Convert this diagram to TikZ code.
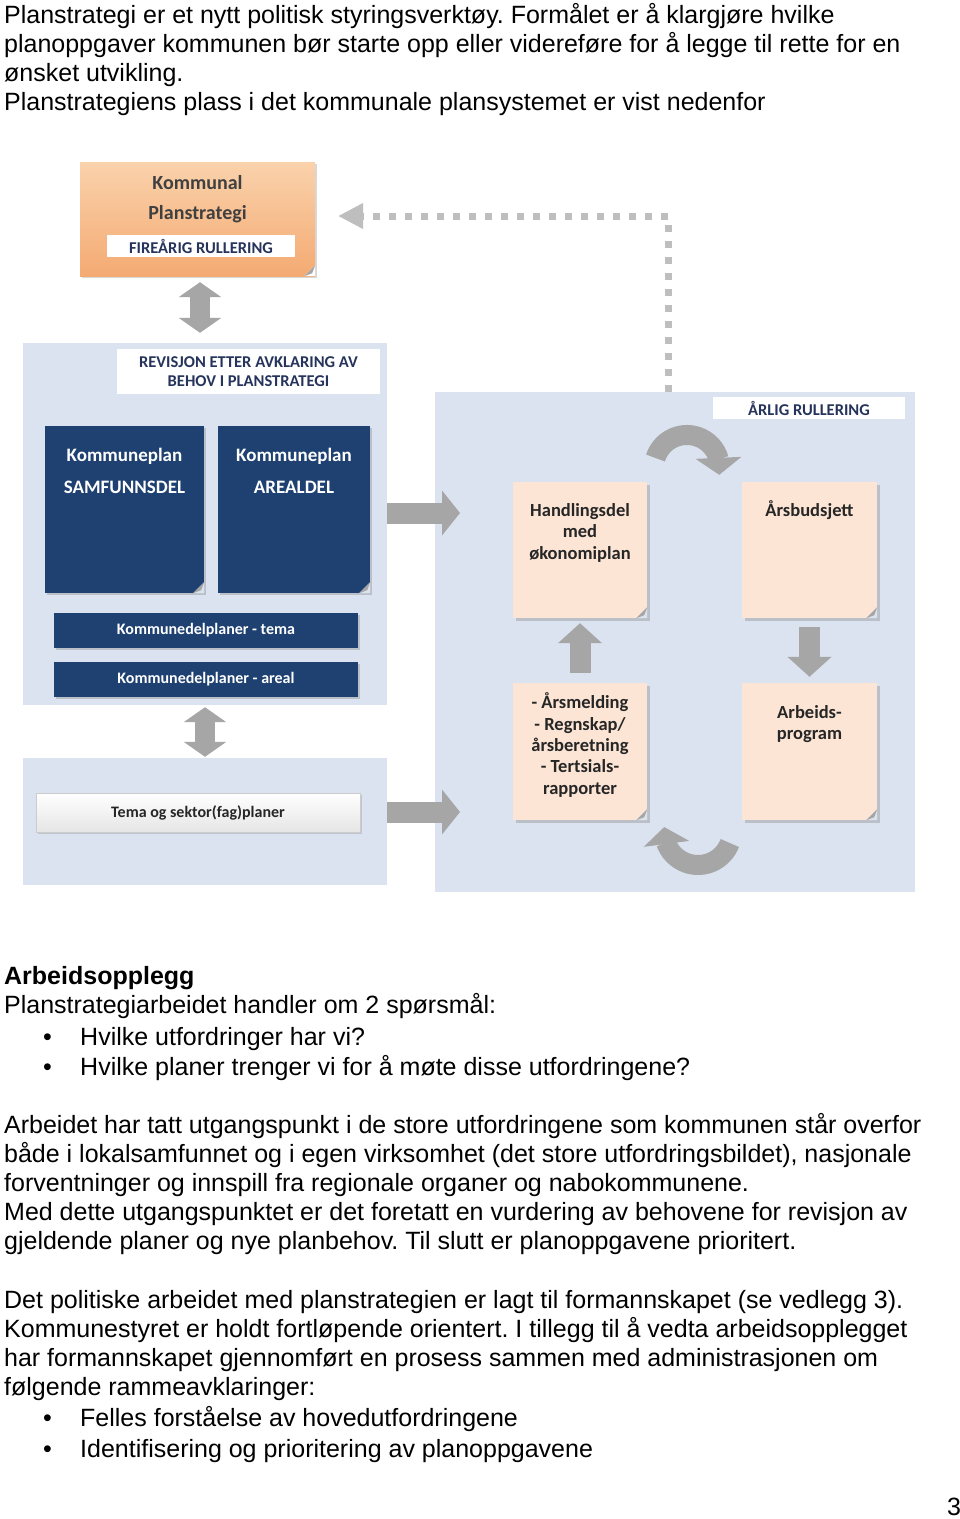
\documentclass[tikz,border=0pt]{standalone}
\usepackage{fontspec}
\setmainfont{Liberation Sans}
\newfontfamily\dfont{Carlito}
\usetikzlibrary{arrows.meta,bending,shadows}
\definecolor{panel}{RGB}{219,227,240}
\definecolor{navy}{RGB}{30,65,114}
\definecolor{navytext}{RGB}{38,52,92}
\definecolor{peach}{RGB}{252,229,213}
\definecolor{arrowgray}{RGB}{166,166,166}
\definecolor{dotgray}{RGB}{190,190,190}
\definecolor{orangetop}{RGB}{250,210,172}
\definecolor{orangebot}{RGB}{244,170,114}
\definecolor{boxtext}{RGB}{38,38,38}
\definecolor{plantext}{RGB}{64,64,64}
\newcommand\pagecurl[2]{%
  \fill[#2] ([xshift=-11pt]#1.south east) -- (#1.south east) -- ([yshift=11pt]#1.south east) -- cycle;
  \fill[black!35] ([xshift=-11pt]#1.south east) -- ([yshift=11pt]#1.south east) -- ([xshift=-3pt,yshift=3pt]#1.south east) -- cycle;}
\frenchspacing
\begin{document}
\begin{tikzpicture}[x=1pt,y=-1pt,
  body/.style={anchor=base west,inner sep=0pt,font=\fontsize{25}{29}\selectfont},
  bodybold/.style={anchor=base west,inner sep=0pt,font=\fontsize{25}{29}\selectfont\bfseries},
  panelbox/.style={fill=panel,draw=none,inner sep=0pt},
  darkbox/.style={fill=navy,draw=none,inner sep=0pt,drop shadow={shadow xshift=2pt,shadow yshift=-2pt,opacity=.35}},
  peachbox/.style={fill=peach,draw=none,inner sep=0pt,drop shadow={shadow xshift=3pt,shadow yshift=-3pt,opacity=.35}},
  whitelabel/.style={fill=white,inner sep=0pt,text=navytext,align=center,font=\dfont\bfseries\fontsize{16.5}{20}\selectfont},
  bartext/.style={fill=navy,inner sep=0pt,text=white,font=\dfont\bfseries\fontsize{16}{19}\selectfont,drop shadow={shadow xshift=2pt,shadow yshift=-2pt,opacity=.35}},
  darktext/.style={anchor=base,inner sep=0pt,text=white,font=\dfont\bfseries\fontsize{19}{22}\selectfont},
  peachtext/.style={anchor=base,inner sep=0pt,text=boxtext,font=\dfont\bfseries\fontsize{18.5}{22}\selectfont},
  plantxt/.style={anchor=base,inner sep=0pt,text=plantext,font=\dfont\bfseries\fontsize{20}{24}\selectfont},
  blockarrow/.style={draw=arrowgray,line width=21pt,-{Triangle[width=44pt,length=18pt]}},
  dblarrow/.style={draw=arrowgray,line width=20pt,{Triangle[width=42pt,length=15pt]}-{Triangle[width=42pt,length=15pt]}},
  vertarrow/.style={draw=arrowgray,line width=21pt,-{Triangle[width=43pt,length=20pt]}},
  curvearrow/.style={draw=arrowgray,line width=20pt,-{Triangle[width=45pt,length=17pt]}}
]
\fill[white] (0,0) rectangle (960,1519);
\useasboundingbox (0,0) rectangle (960,1519);

% ---------- top text ----------
\node[body] (l1) at (4,23) {Planstrategi er et nytt politisk styringsverktøy. Formålet er å klargjøre hvilke};
\node[body] (l2) at (4,52) {planoppgaver kommunen bør starte opp eller videreføre for å legge til rette for en};
\node[body] (l3) at (4,81) {ønsket utvikling.};
\node[body] (l4) at (4,110) {Planstrategiens plass i det kommunale plansystemet er vist nedenfor};

% ---------- panels ----------
\node[panelbox,minimum width=364pt,minimum height=362pt] (left) at (205,524) {};
\node[panelbox,minimum width=364pt,minimum height=127pt] (low) at (205,821.5) {};
\node[panelbox,minimum width=480pt,minimum height=500pt] (right) at (675,642) {};

% ---------- Kommunal planstrategi ----------
\node[inner sep=0pt,minimum width=235pt,minimum height=114pt,top color=orangetop,bottom color=orangebot,
      drop shadow={shadow xshift=2pt,shadow yshift=-2pt,opacity=.3}] (plan) at (197.5,219) {};
\pagecurl{plan}{white}
\node[plantxt] (plan1) at (197.5,189.5) {Kommunal};
\node[plantxt] (plan2) at (197.5,219.5) {Planstrategi};
\node[whitelabel,minimum width=188pt,minimum height=22pt] (fire) at (201,246) {FIREÅRIG RULLERING};

% ---------- left panel content ----------
\node[whitelabel,minimum width=263pt,minimum height=45pt] (rev) at (248.5,371.5) {REVISJON ETTER AVKLARING AV\\[-1pt]BEHOV I PLANSTRATEGI};
\node[darkbox,minimum width=159pt,minimum height=167pt] (samf) at (124.5,509.5) {};
\node[darkbox,minimum width=152pt,minimum height=167pt] (areal) at (294,509.5) {};
\pagecurl{samf}{panel}
\pagecurl{areal}{panel}
\node[darktext] (samf1) at (124.5,461) {Kommuneplan};
\node[darktext] (samf2) at (124.5,493) {SAMFUNNSDEL};
\node[darktext] (areal1) at (294,461) {Kommuneplan};
\node[darktext] (areal2) at (294,493) {AREALDEL};
\node[bartext,minimum width=304pt,minimum height=35pt] (tema) at (206,630.5) {Kommunedelplaner - tema};
\node[bartext,minimum width=304pt,minimum height=35pt] (arealbar) at (206,679.5) {Kommunedelplaner - areal};

% ---------- lower left panel ----------
\node[inner sep=0pt,minimum width=324pt,minimum height=39pt,top color=white,bottom color=black!10,draw=black!20,
      text=boxtext,font=\dfont\bfseries\fontsize{16}{19}\selectfont,
      drop shadow={shadow xshift=2pt,shadow yshift=-2pt,opacity=.3}] (sektor) at (198,812.5) {Tema og sektor(fag)planer};

% ---------- right panel content ----------
\node[whitelabel,minimum width=192pt,minimum height=22pt] (arlig) at (809,408) {ÅRLIG RULLERING};
\node[peachbox,minimum width=134pt,minimum height=136pt] (handl) at (580,550) {};
\node[peachbox,minimum width=135pt,minimum height=136pt] (budsj) at (809.5,550) {};
\node[peachbox,minimum width=134pt,minimum height=137pt] (melding) at (580,751.5) {};
\node[peachbox,minimum width=135pt,minimum height=137pt] (arbeid) at (809.5,751.5) {};
\pagecurl{handl}{panel}
\pagecurl{budsj}{panel}
\pagecurl{melding}{panel}
\pagecurl{arbeid}{panel}
\node[peachtext] (h1) at (580,516) {Handlingsdel};
\node[peachtext] (h2) at (580,537) {med};
\node[peachtext] (h3) at (580,559) {økonomiplan};
\node[peachtext] (b1) at (809.5,516) {Årsbudsjett};
\node[peachtext] (m1) at (580,708) {- Årsmelding};
\node[peachtext] (m2) at (580,730) {- Regnskap/};
\node[peachtext] (m3) at (580,751) {årsberetning};
\node[peachtext] (m4) at (580,772) {- Tertsials-};
\node[peachtext] (m5) at (580,794) {rapporter};
\node[peachtext] (a1) at (809.5,718) {Arbeids-};
\node[peachtext] (a2) at (809.5,739) {program};

% ---------- connectors ----------
\draw[dblarrow,shorten <=6pt,shorten >=10pt] ([xshift=2.5pt]plan.south) -- ([xshift=2.5pt]plan.south |- left.north);
\draw[dblarrow,shorten <=2pt,shorten >=1pt] (left.south) -- (low.north);
\coordinate (ra1) at (460,513);
\coordinate (ra2) at (460,812);
\draw[blockarrow] (left.east |- ra1) -- (ra1);
\draw[blockarrow] (low.east |- ra2) -- (ra2);
\draw[vertarrow,shorten <=10pt,shorten >=5pt] (melding.north) -- (handl.south);
\draw[vertarrow,shorten <=9pt,shorten >=6pt] (budsj.south) -- (arbeid.north);
\coordinate (arcAstart) at (655.5,458);
\draw[curvearrow] (arcAstart) arc[start angle=197.6,end angle=372,radius=33];
\coordinate (arcBstart) at (729.8,843);
\draw[curvearrow] (arcBstart) arc[start angle=20.7,end angle=186.7,radius=34];
\coordinate (dotstart) at (668,392);
\coordinate (dottip) at (338,216);
\draw[dotgray,line width=7pt,dash pattern=on 7pt off 9pt,-{Triangle[width=24pt,length=25pt]}] (dotstart) |- (dottip);

% ---------- lower text ----------
\node[bodybold] (l5) at (4,984) {Arbeidsopplegg};
\node[body] (l6) at (4,1013) {Planstrategiarbeidet handler om 2 spørsmål:};
\node[body] (d1) at (43,1045) {•};
\node[body] (l7) at (80,1045) {Hvilke utfordringer har vi?};
\node[body] (d2) at (43,1075) {•};
\node[body] (l8) at (80,1075) {Hvilke planer trenger vi for å møte disse utfordringene?};
\node[body] (l9) at (4,1133) {Arbeidet har tatt utgangspunkt i de store utfordringene som kommunen står overfor};
\node[body] (l10) at (4,1162) {både i lokalsamfunnet og i egen virksomhet (det store utfordringsbildet), nasjonale};
\node[body] (l11) at (4,1191) {forventninger og innspill fra regionale organer og nabokommunene.};
\node[body] (l12) at (4,1220) {Med dette utgangspunktet er det foretatt en vurdering av behovene for revisjon av};
\node[body] (l13) at (4,1249) {gjeldende planer og nye planbehov. Til slutt er planoppgavene prioritert.};
\node[body] (l14) at (4,1308) {Det politiske arbeidet med planstrategien er lagt til formannskapet (se vedlegg 3).};
\node[body] (l15) at (4,1337) {Kommunestyret er holdt fortløpende orientert. I tillegg til å vedta arbeidsopplegget};
\node[body] (l16) at (4,1366) {har formannskapet gjennomført en prosess sammen med administrasjonen om};
\node[body] (l17) at (4,1395) {følgende rammeavklaringer:};
\node[body] (d3) at (43,1426) {•};
\node[body] (l18) at (80,1426) {Felles forståelse av hovedutfordringene};
\node[body] (d4) at (43,1457) {•};
\node[body] (l19) at (80,1457) {Identifisering og prioritering av planoppgavene};
\node[body] (pg) at (947,1515) {3};
\end{tikzpicture}
\end{document}
